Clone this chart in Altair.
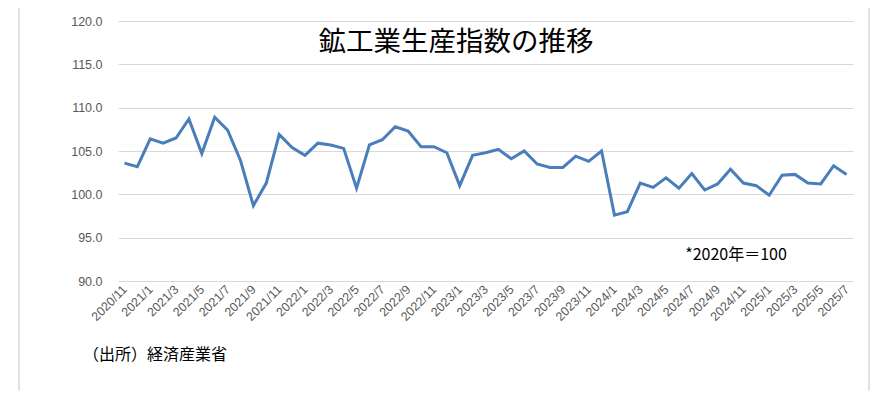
import altair as alt
import pandas as pd

months = (
    ["2020/11", "2020/12"]
    + [f"{y}/{m}" for y in (2021, 2022, 2023, 2024) for m in range(1, 13)]
    + [f"2025/{m}" for m in range(1, 8)]
)

values = [
    103.6, 103.2,
    106.4, 105.9, 106.5, 108.7, 104.7, 108.9, 107.4, 103.9, 98.7, 101.3, 106.9, 105.4,
    104.5, 105.9, 105.7, 105.3, 100.7, 105.7, 106.3, 107.8, 107.3, 105.5, 105.5, 104.8,
    101.0, 104.5, 104.8, 105.2, 104.1, 105.0, 103.5, 103.1, 103.1, 104.4, 103.8, 105.0,
    97.6, 98.0, 101.3, 100.8, 101.9, 100.7, 102.4, 100.5, 101.2, 102.9, 101.3, 101.0,
    99.9, 102.2, 102.3, 101.3, 101.2, 103.3, 102.3,
]

y_ticks = [90, 95, 100, 105, 110, 115, 120]
x_label_values = months[::2]

title_text = "鉱工業生産指数の推移"
note_text = "*2020年＝100"
source_text = "（出所）経済産業省"

df = pd.DataFrame({"month": months, "value": values})
one = pd.DataFrame({"k": [0]})

W, H = 735, 260
JP = "Noto Sans CJK JP"
LAB = "Liberation Sans"

line = alt.Chart(df).mark_line(color="#4A7EBB", strokeWidth=3).encode(
    x=alt.X(
        "month:O",
        sort=months,
        scale=alt.Scale(type="point", padding=0.5),
        axis=alt.Axis(
            values=x_label_values,
            labelAngle=-45,
            labelAlign="right",
            labelBaseline="middle",
            labelPadding=6,
            labelFontSize=12.5,
            labelFont=LAB,
            labelColor="#595959",
            ticks=False,
            domain=False,
            grid=False,
            title=None,
            labelOverlap=False,
        ),
    ),
    y=alt.Y(
        "value:Q",
        scale=alt.Scale(domain=[90, 120], nice=False, zero=False),
        axis=alt.Axis(
            values=y_ticks,
            format=".1f",
            grid=True,
            gridColor="#d9d9d9",
            gridWidth=1,
            domain=False,
            ticks=False,
            labelPadding=16,
            labelFontSize=12.5,
            labelFont=LAB,
            labelColor="#595959",
            title=None,
        ),
    ),
)

frame_color = "#d9d9d9"
frame_left = alt.Chart(one).mark_rule(color=frame_color, strokeWidth=1.5).encode(
    x=alt.value(-99), y=alt.value(-16), y2=alt.value(400)
)
frame_top = alt.Chart(one).mark_rule(color=frame_color, strokeWidth=1.5).encode(
    x=alt.value(-99), x2=alt.value(751), y=alt.value(-16)
)
frame_right = alt.Chart(one).mark_rule(color=frame_color, strokeWidth=1.5).encode(
    x=alt.value(751), y=alt.value(-16), y2=alt.value(400)
)

title = alt.Chart(one).mark_text(
    text=title_text, font=JP, fontSize=27.5, fontWeight="normal", color="#000000",
    align="center", baseline="middle"
).encode(x=alt.value(338), y=alt.value(22))

note = alt.Chart(one).mark_text(
    text=note_text, font=JP, fontSize=16, fontWeight="normal", color="#000000",
    align="center", baseline="middle"
).encode(x=alt.value(618), y=alt.value(234))

source = alt.Chart(one).mark_text(
    text=source_text, font=JP, fontSize=16, fontWeight="normal", color="#000000",
    align="left", baseline="middle"
).encode(x=alt.value(-35), y=alt.value(334))

chart = (
    alt.layer(frame_left, frame_top, frame_right, line, title, note, source)
    .properties(
        width=W,
        height=H,
        background="#ffffff",
        autosize=alt.AutoSizeParams(type="none"),
        padding={"left": 110, "top": 13, "right": 25, "bottom": 110},
    )
    .configure_view(stroke=None)
)

chart.save("out.html", embed_options={"renderer": "svg", "actions": False})
